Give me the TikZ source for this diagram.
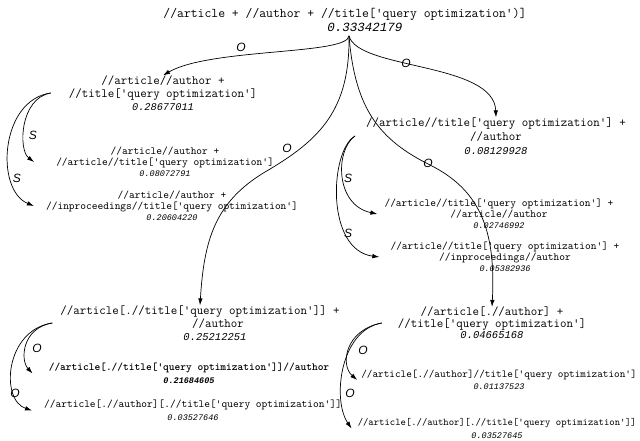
\documentclass[tikz,border=0pt]{standalone}
\usepackage{fontspec}
\setsansfont{Liberation Sans}
\newfontfamily\numfont{Liberation Mono}
\usetikzlibrary{arrows.meta}
\newcommand{\score}[2]{{\numfont\fontsize{#1}{#1}\selectfont\itshape #2}}

\begin{document}
\begin{tikzpicture}[x=1pt, y=-1pt,
    top/.style={align=center, inner sep=0pt, font=\fontsize{13.3}{14}\selectfont\ttfamily},
    big/.style={align=center, inner sep=0pt, font=\fontsize{12.6}{13}\selectfont\ttfamily},
    small/.style={align=center, inner sep=0pt, font=\fontsize{10.9}{11}\selectfont\ttfamily},
    pair/.style={align=center, inner sep=0pt, font=\fontsize{10.9}{12.5}\selectfont\ttfamily},
    lab/.style={inner sep=0pt, font=\fontsize{12}{12}\selectfont\sffamily\itshape},
    arr/.style={-{Latex[length=7pt,width=4.5pt]}, line width=0.7pt}]
        \useasboundingbox (0,0) rectangle (640,441);

        % query at the top
        \node[top] (R) at (345,20) {//article + //author + //title['query optimization')]\\ \hspace*{40pt}\score{12.5}{0.33342179}};
        \coordinate (br) at ([xshift=4pt,yshift=-4pt]R.south);

        % first level
        \node[big] (A) at (163,93) {//article//author +\\ //title['query optimization']\\ \score{10.3}{0.28677011}};
        \node[big, font=\fontsize{12.6}{14}\selectfont\ttfamily] (C) at (496,136) {//article//title['query optimization'] +\\ //author\\ \score{10.5}{0.08129928}};
        \node[big] (B) at (200,323) {//article[.//title['query optimization']] +\\ \hspace*{36pt}//author\\ \hspace*{30pt}\score{10.5}{0.25212251}};
        \node[big, font=\fontsize{12.6}{11.5}\selectfont\ttfamily] (D) at (492,323) {//article[.//author] +\\ //title['query optimization']\\ \score{10.5}{0.04665168}};

        % second level
        \node[small] (A1) at (165,162) {//article//author +\\ //article//title['query optimization']\\ \score{8.5}{0.08072791}};
        \node[small] (A2) at (172,206) {//article//author +\\ //inproceedings//title['query optimization']\\ \score{8.5}{0.20604220}};
        \node[small] (C1) at (499,214) {//article//title['query optimization'] +\\ //article//author\\ \score{8.5}{0.02746992}};
        \node[small] (C2) at (505,257) {//article//title['query optimization'] +\\ //inproceedings//author\\ \score{8.5}{0.05382936}};
        \node[pair, font=\fontsize{10.9}{12.5}\selectfont\ttfamily\bfseries] (B1) at (189,373.5) {//article[.//title['query optimization']]//author\\ \score{8.5}{0.21684605}};
        \node[pair] (B2) at (193,410.5) {//article[.//author][.//title['query optimization']]\\ \score{8.5}{0.03527646}};
        \node[pair, font=\fontsize{10.7}{12.5}\selectfont\ttfamily] (D1) at (499,380) {//article[.//author]//title['query optimization']\\ \score{8.5}{0.01137523}};
        \node[pair, font=\fontsize{10.2}{12.5}\selectfont\ttfamily] (D2) at (497,428.5) {//article[.//author][.//title['query optimization']]\\ \score{8.5}{0.03527645}};

        % O edges from the top
        \draw[arr] (br) .. controls (348,55) and (210,48) .. (A.north);
        \draw[arr] (br) .. controls (358,70) and (494,62) .. (C.north);
        \draw[arr] (br) .. controls (350,110) and (320,140) .. (265,172) .. controls (215,202) and (204,240) .. (B.north);
        \draw[arr] (br) .. controls (355,110) and (380,140) .. (430,165) .. controls (480,190) and (496,230) .. (D.north);
        \node[lab] (oA) at (241,47) {O};
        \node[lab] (oC) at (406,63) {O};
        \node[lab] (oB) at (287,148) {O};
        \node[lab] (oD) at (428,163) {O};

        % S edges
        \draw[arr] ([xshift=-18pt]A.west) .. controls (20,98) and (18,150) .. ([xshift=-22pt]A1.west);
        \draw[arr] ([xshift=-18pt]A.west) .. controls (0,100) and (-5,190) .. ([xshift=-12pt]A2.west);
        \node[lab] (sA1) at (33,135) {S};
        \node[lab] (sA2) at (17,178) {S};
        \draw[arr] ([xshift=-11pt]C.west) .. controls (335,150) and (335,205) .. ([xshift=-7pt]C1.west);
        \draw[arr] ([xshift=-11pt]C.west) .. controls (330,150) and (325,250) .. ([xshift=-11pt]C2.west);
        \node[lab] (sC1) at (348,178) {S};
        \node[lab] (sC2) at (348,233) {S};

        % O edges below
        \draw[arr] ([xshift=-8pt]B.west) .. controls (22,328) and (20,360) .. ([xshift=-16pt]B1.west);
        \draw[arr] ([xshift=-8pt]B.west) .. controls (5,330) and (0,400) .. ([xshift=-12pt]B2.west);
        \node[lab] (oB1) at (37,348) {O};
        \node[lab] (oB2) at (15,393) {O};
        \draw[arr] ([xshift=-16pt]D.west) .. controls (345,330) and (340,365) .. ([xshift=-4pt]D1.west);
        \draw[arr] ([xshift=-16pt]D.west) .. controls (340,330) and (332,400) .. ([xshift=-6pt]D2.west);
        \node[lab] (oD1) at (363,350) {O};
        \node[lab] (oD2) at (350,393) {O};

    \end{tikzpicture}
\end{document}
